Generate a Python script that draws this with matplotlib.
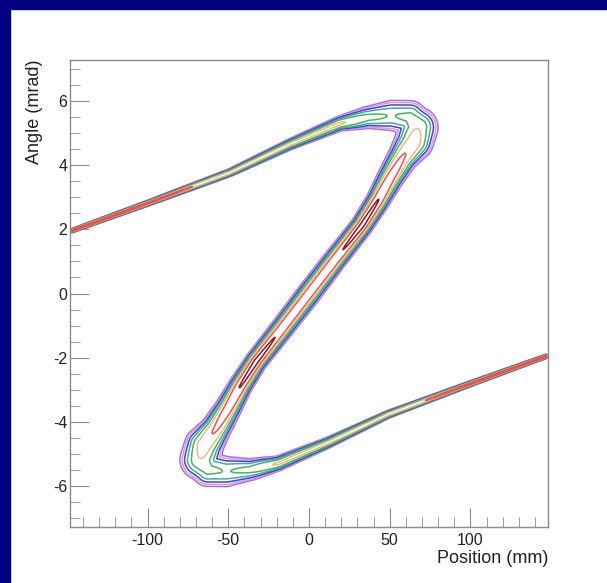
import numpy as np
import matplotlib
matplotlib.use("Agg")
import matplotlib.pyplot as plt
from matplotlib.patches import Rectangle
from matplotlib.ticker import MultipleLocator

plt.rcParams["font.family"] = ["Liberation Sans", "DejaVu Sans"]
plt.rcParams["axes.unicode_minus"] = False

# Ridge (spine) of the S-shaped phase-space distribution
spine_x = [-146.7, -98.5, -48.9, -11.8, 19.2, 36.5, 51.4, 62.5, 67.5, 65.0, 57.6, 50.2, 42.7, 32.8, 16.7, 0.0,
           -16.7, -32.8, -42.7, -50.2, -57.6, -65.0, -67.5, -62.5, -51.4, -36.5, -19.2, 11.8, 48.9, 98.5, 146.7]  # mm
spine_y = [1.96, 2.84, 3.77, 4.65, 5.30, 5.49, 5.55, 5.49, 5.18, 4.74, 4.21, 3.59, 2.90, 2.12, 1.09, 0.0,
           -1.09, -2.12, -2.90, -3.59, -4.21, -4.74, -5.18, -5.49, -5.55, -5.49, -5.30, -4.65, -3.77, -2.84, -1.96]  # mrad
# peak density on the ridge and ridge width (screen pixels)
ridge_peak = [100, 80, 50, 40, 35, 20, 15, 20, 30, 50, 70, 95, 130, 150, 120, 110,
              120, 150, 130, 95, 70, 50, 30, 20, 15, 20, 35, 40, 50, 80, 100]
ridge_width = [0.7, 1.0, 1.4, 2.0, 2.8, 4.5, 6.5, 6.9, 7.7, 7.0, 5.2, 4.4, 3.8, 3.5, 3.7, 3.9,
               3.7, 3.5, 3.8, 4.4, 5.2, 7.0, 7.7, 6.9, 6.5, 4.5, 2.8, 2.0, 1.4, 1.0, 0.7]

levels = [1, 2, 4, 8, 16, 32, 64, 128]
level_colors = ["#a060d8", "#d090e8", "#3030c8", "#30a0a0", "#30b040", "#f0b080", "#ff3838", "#800000"]

x_lim = (-148, 148)
y_lim = (-7.28, 7.28)

# screen scale (pixels per unit) so ridge widths are isotropic on the page
sx = 478.0 / (x_lim[1] - x_lim[0])
sy = 467.0 / (y_lim[1] - y_lim[0])

gx = np.linspace(x_lim[0], x_lim[1], 1200)
gy = np.linspace(y_lim[0], y_lim[1], 1200)
X, Y = np.meshgrid(gx, gy)
U = X * sx
V = Y * sy
density = np.zeros_like(U)
for i in range(len(spine_x) - 1):
	ax0, ay0 = spine_x[i] * sx, spine_y[i] * sy
	bx, by = spine_x[i + 1] * sx, spine_y[i + 1] * sy
	dx, dy = bx - ax0, by - ay0
	t = np.clip(((U - ax0) * dx + (V - ay0) * dy) / (dx * dx + dy * dy), 0, 1)
	d2 = (U - ax0 - t * dx) ** 2 + (V - ay0 - t * dy) ** 2
	amp = ridge_peak[i] + t * (ridge_peak[i + 1] - ridge_peak[i])
	w = ridge_width[i] + t * (ridge_width[i + 1] - ridge_width[i])
	density = np.maximum(density, amp * np.exp(-d2 / (2 * w * w)))

fig = plt.figure(figsize=(6.07, 5.83), dpi=100)
fig.patch.set_facecolor("white")
fig.add_artist(Rectangle((0, 0), 10 / 607, 1, transform=fig.transFigure, color="#000080", zorder=10))
fig.add_artist(Rectangle((0, 1 - 9 / 583), 1, 9 / 583, transform=fig.transFigure, color="#000080", zorder=10))

ax = fig.add_axes([70 / 607, 56 / 583, 478 / 607, 467 / 583])
ax.contour(X, Y, density, levels=levels, colors=level_colors, linewidths=1.1, alpha=0.9)

ax.set_xlim(*x_lim)
ax.set_ylim(*y_lim)
ax.xaxis.set_major_locator(MultipleLocator(50))
ax.xaxis.set_minor_locator(MultipleLocator(10))
ax.yaxis.set_major_locator(MultipleLocator(2))
ax.yaxis.set_minor_locator(MultipleLocator(0.5))
ax.tick_params(which="both", direction="in", top=False, right=False, color="#8c8c8c",
               labelcolor="#222222", labelsize=11.5)
ax.tick_params(which="major", length=14)
ax.tick_params(which="minor", length=7)
ax.tick_params(axis="y", pad=2)
ax.tick_params(axis="x", pad=4)
for s in ax.spines.values():
	s.set_color("#8c8c8c")
	s.set_linewidth(1.0)

ax.set_xlabel("Position (mm)", loc="right", fontsize=13, color="#222222", labelpad=2)
ax.set_ylabel("Angle (mrad)", loc="top", fontsize=13, color="#222222", labelpad=7)

fig.savefig("out.png", dpi=100)
